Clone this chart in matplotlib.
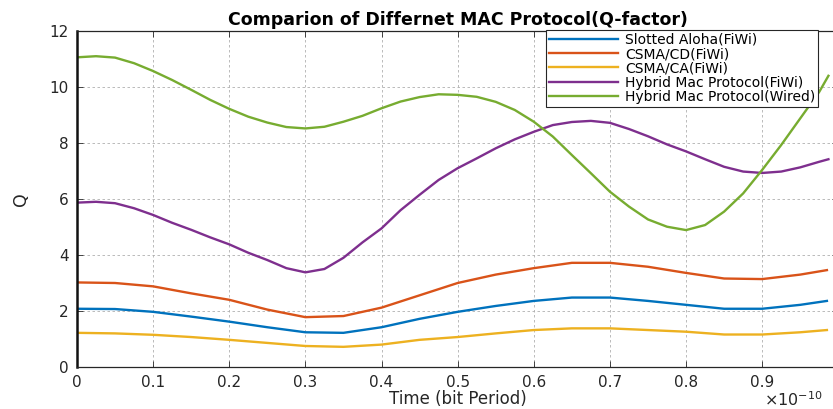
import matplotlib
matplotlib.use("Agg")
from matplotlib import pyplot as plt

# values (Q vs time in units of 1e-10 bit period)
t = [0, 0.05, 0.1, 0.15, 0.2, 0.25, 0.3, 0.35, 0.4, 0.45, 0.5,
     0.55, 0.6, 0.65, 0.7, 0.75, 0.8, 0.85, 0.9, 0.95, 0.985]

slotted_aloha = [2.08, 2.07, 1.97, 1.80, 1.62, 1.42, 1.24, 1.22, 1.42, 1.72, 1.97,
                 2.18, 2.36, 2.48, 2.48, 2.36, 2.22, 2.08, 2.08, 2.22, 2.36]
csma_cd = [3.02, 3.00, 2.88, 2.63, 2.40, 2.05, 1.78, 1.82, 2.12, 2.56, 3.00,
           3.30, 3.53, 3.72, 3.72, 3.58, 3.36, 3.16, 3.14, 3.30, 3.46]
csma_ca = [1.22, 1.20, 1.15, 1.07, 0.97, 0.86, 0.75, 0.72, 0.80, 0.97, 1.07,
           1.20, 1.32, 1.38, 1.38, 1.32, 1.26, 1.16, 1.16, 1.24, 1.32]

# the two hybrid curves swing more, so they were read on a finer step
t_fine = [0, 0.025, 0.05, 0.075, 0.1, 0.125, 0.15, 0.175, 0.2, 0.225, 0.25,
          0.275, 0.3, 0.325, 0.35, 0.375, 0.4, 0.425, 0.45, 0.475, 0.5,
          0.525, 0.55, 0.575, 0.6, 0.625, 0.65, 0.675, 0.7, 0.725, 0.75,
          0.775, 0.8, 0.825, 0.85, 0.875, 0.9, 0.925, 0.95, 0.975, 0.987]
hybrid_fiwi = [5.87, 5.90, 5.85, 5.67, 5.43, 5.15, 4.90, 4.63, 4.38, 4.08, 3.82,
               3.53, 3.38, 3.50, 3.90, 4.45, 4.95, 5.60, 6.15, 6.68, 7.10,
               7.45, 7.81, 8.13, 8.40, 8.64, 8.75, 8.79, 8.72, 8.50, 8.24,
               7.95, 7.70, 7.42, 7.15, 6.98, 6.93, 6.98, 7.13, 7.33, 7.42]
hybrid_wired = [11.06, 11.10, 11.05, 10.85, 10.57, 10.25, 9.90, 9.54, 9.22, 8.94, 8.73,
                8.57, 8.52, 8.58, 8.76, 8.97, 9.24, 9.48, 9.64, 9.74, 9.72,
                9.65, 9.47, 9.18, 8.76, 8.23, 7.57, 6.92, 6.26, 5.73, 5.27,
                5.01, 4.89, 5.07, 5.55, 6.20, 7.04, 7.93, 8.88, 9.83, 10.40]

labels = ["Slotted Aloha(FiWi)", "CSMA/CD(FiWi)", "CSMA/CA(FiWi)",
          "Hybrid Mac Protocol(FiWi)", "Hybrid Mac Protocol(Wired)"]
colors = ["#0072BD", "#D95319", "#EDB120", "#7E2F8E", "#77AC30"]
xtick_labels = ["0", "0.1", "0.2", "0.3", "0.4", "0.5", "0.6", "0.7", "0.8", "0.9", ""]

plt.rcParams['font.family'] = ['DejaVu Sans']

fig = plt.figure(figsize=(8.33, 4.09), dpi=100)
# the axes run a little past the right edge, as in the cropped original
ax = fig.add_axes([0.0924, 0.1027, 0.914, 0.8215])

series = [(t, slotted_aloha), (t, csma_cd), (t, csma_ca),
          (t_fine, hybrid_fiwi), (t_fine, hybrid_wired)]
for (x, y), lab, c in zip(series, labels, colors):
    ax.plot(x, y, color=c, linewidth=1.7, label=lab)

ax.set_xlim(0, 1)
ax.set_ylim(0, 12)
ax.set_xticks([i / 10 for i in range(11)])
ax.set_xticklabels(xtick_labels)
ax.set_yticks(range(0, 13, 2))
ax.tick_params(direction="in", length=4, width=0.6, top=True, right=True,
               labelsize=11, colors="#262626", pad=6)
ax.grid(True, linestyle=(0, (3, 3)), color="#b0b0b0", linewidth=0.6)
for side in ["top", "bottom", "right"]:
    ax.spines[side].set_linewidth(0.9)
    ax.spines[side].set_color("#262626")
ax.spines["left"].set_linewidth(1.8)
ax.spines["left"].set_color("#111111")

ax.set_title("Comparion of Differnet MAC Protocol(Q-factor)", fontsize=12.5,
             fontweight="bold", pad=4)
ax.set_xlabel("Time (bit Period)", fontsize=12, color="#262626", labelpad=0)
ax.set_ylabel("Q", fontsize=12.5, color="#262626", labelpad=14)

fig.text(0.917, 0.008, r"$\times 10^{-10}$", fontsize=11.5, color="#262626")

leg = ax.legend(loc="upper right", bbox_to_anchor=(818 / 833, 1 - 30 / 409),
                bbox_transform=fig.transFigure, fontsize=10, handlelength=5.0,
                fancybox=False, framealpha=1, edgecolor="#262626",
                borderpad=0.2, labelspacing=0.02, handletextpad=0.5, borderaxespad=0)
leg.get_frame().set_linewidth(0.8)

fig.savefig("out.png", dpi=100)
